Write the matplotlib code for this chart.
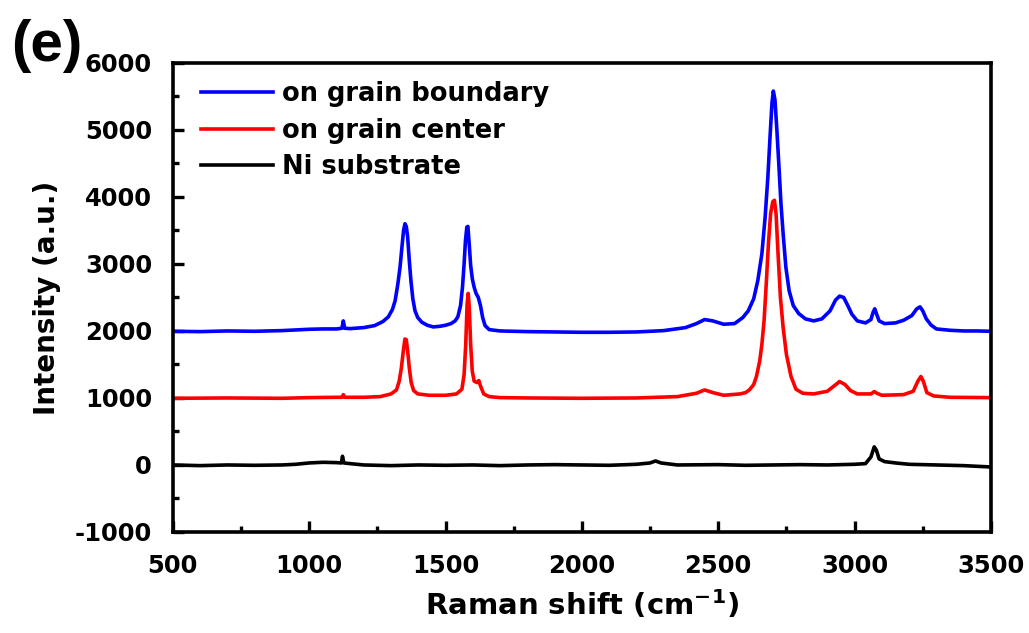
import matplotlib
matplotlib.use("Agg")
import matplotlib.pyplot as plt
from matplotlib.ticker import MultipleLocator

plt.rcParams["axes.unicode_minus"] = False

# Raman spectra (Raman shift in cm^-1, intensity in a.u., offset per curve)
boundary_x = [500, 600, 700, 800, 900, 1000, 1050, 1100, 1120, 1125, 1130, 1150, 1200, 1240,
              1270, 1290, 1305, 1315, 1325, 1333, 1340, 1346, 1351, 1356, 1361, 1367, 1373,
              1380, 1388, 1398, 1413, 1433, 1455, 1480, 1500, 1520, 1535, 1545, 1555, 1562,
              1568, 1573, 1578, 1582, 1587, 1592, 1598, 1605, 1612, 1620, 1628, 1636, 1645,
              1660, 1700, 1800, 1900, 2000, 2100, 2200, 2300, 2380, 2420, 2450, 2480, 2520,
              2560, 2590, 2610, 2630, 2645, 2660, 2672, 2682, 2690, 2697, 2702, 2708, 2715,
              2722, 2730, 2738, 2748, 2760, 2775, 2795, 2820, 2850, 2880, 2910, 2930, 2945,
              2960, 2975, 2990, 3010, 3040, 3060, 3068, 3074, 3080, 3090, 3110, 3150, 3180,
              3210, 3228, 3240, 3250, 3263, 3280, 3300, 3350, 3400, 3450, 3500]
boundary_y = [1995, 1990, 2000, 1995, 2005, 2025, 2030, 2030, 2040, 2150, 2040, 2035, 2050, 2080,
              2140, 2210, 2320, 2450, 2700, 2950, 3250, 3500, 3600, 3560, 3400, 3050, 2750,
              2480, 2300, 2200, 2130, 2085, 2060, 2070, 2085, 2110, 2150, 2210, 2380, 2650,
              3000, 3350, 3550, 3560, 3280, 2980, 2780, 2650, 2560, 2500, 2380, 2200, 2080,
              2020, 2000, 1990, 1985, 1980, 1980, 1985, 2005, 2050, 2110, 2170, 2150, 2100,
              2110, 2200, 2300, 2480, 2750, 3150, 3700, 4300, 4900, 5400, 5580, 5450, 5000,
              4500, 3900, 3450, 2950, 2600, 2380, 2260, 2180, 2150, 2180, 2300, 2460, 2520,
              2500, 2380, 2250, 2150, 2120, 2170, 2280, 2330, 2260, 2150, 2110, 2120, 2160,
              2230, 2330, 2360, 2300, 2180, 2090, 2030, 2010, 2000, 2000, 1995]

center_x = [500, 700, 900, 1000, 1100, 1120, 1125, 1130, 1200, 1260, 1300, 1320, 1330, 1338,
            1345, 1351, 1356, 1361, 1367, 1374, 1383, 1398, 1440, 1500, 1540, 1560, 1568,
            1574, 1579, 1583, 1587, 1592, 1598, 1605, 1615, 1622, 1628, 1640, 1660, 1700,
            1800, 2000, 2200, 2350, 2420, 2450, 2480, 2520, 2580, 2600, 2614, 2630, 2640,
            2652, 2660, 2668, 2676, 2684, 2692, 2700, 2706, 2712, 2720, 2728, 2738, 2750,
            2767, 2785, 2810, 2850, 2900, 2925, 2945, 2965, 2985, 3010, 3060, 3072, 3082,
            3100, 3180, 3215, 3232, 3243, 3252, 3265, 3290, 3350, 3500]
center_y = [995, 1000, 995, 1005, 1010, 1010, 1050, 1010, 1010, 1020, 1060, 1120, 1250, 1450,
            1700, 1880, 1870, 1700, 1450, 1230, 1110, 1060, 1040, 1040, 1060, 1130, 1350,
            1800, 2400, 2560, 2350, 1800, 1400, 1250, 1230, 1260, 1180, 1060, 1020, 1005,
            1000, 995, 1000, 1020, 1070, 1120, 1080, 1040, 1060, 1080, 1120, 1200, 1320,
            1550, 1800, 2150, 2700, 3300, 3750, 3930, 3950, 3750, 3100, 2500, 2050, 1650,
            1320, 1130, 1070, 1060, 1100, 1180, 1245, 1200, 1110, 1060, 1060, 1095, 1070,
            1040, 1050, 1100, 1250, 1320, 1250, 1080, 1030, 1010, 1005]

ni_x = [500, 600, 700, 800, 900, 950, 1000, 1050, 1100, 1118, 1122, 1127, 1150, 1200, 1300,
        1400, 1500, 1600, 1700, 1800, 1900, 2000, 2100, 2200, 2250, 2270, 2290, 2350, 2500,
        2600, 2700, 2800, 2900, 3000, 3040, 3060, 3072, 3080, 3090, 3110, 3150, 3200, 3300,
        3400, 3500]
ni_y = [0, -10, 0, -5, 0, 10, 30, 40, 35, 30, 130, 30, 20, 0, -10,
        0, -5, 0, -10, 0, 5, 0, -5, 10, 30, 60, 30, 0, 5,
        -5, 0, 5, 0, 10, 20, 120, 270, 220, 90, 50, 30, 10, 0,
        -10, -30]

series_labels = ["on grain boundary", "on grain center", "Ni substrate"]
series_colors = ["#0000ff", "#ff0000", "#000000"]

bold = dict(family="DejaVu Sans", weight="bold")

fig = plt.figure(figsize=(10.29, 6.33), dpi=100)
ax = fig.add_axes([0.168, 0.1596, 0.795, 0.741])

for xs, ys, lab, col in zip([boundary_x, center_x, ni_x], [boundary_y, center_y, ni_y],
                            series_labels, series_colors):
    ax.plot(xs, ys, color=col, lw=2.6, label=lab, solid_joinstyle="round")

ax.set_xlim(500, 3500)
ax.set_ylim(-1000, 6000)
ax.xaxis.set_major_locator(MultipleLocator(500))
ax.xaxis.set_minor_locator(MultipleLocator(250))
ax.yaxis.set_major_locator(MultipleLocator(1000))
ax.yaxis.set_minor_locator(MultipleLocator(500))

for s in ax.spines.values():
    s.set_linewidth(2.6)
ax.tick_params(which="both", direction="in", width=2.4, top=False, right=False)
ax.tick_params(axis="y", which="major", length=8, pad=15)
ax.tick_params(axis="x", which="major", length=8, pad=16)
ax.tick_params(which="minor", length=4.5)
for lbl in ax.get_xticklabels() + ax.get_yticklabels():
    lbl.set_fontfamily("DejaVu Sans")
    lbl.set_fontweight("bold")
    lbl.set_fontsize(17.5)

ax.set_xlabel("Raman shift (cm$^{\\mathbf{-1}}$)", fontsize=21, labelpad=7, **bold)
ax.set_ylabel("Intensity (a.u.)", fontsize=20, labelpad=10, **bold)

leg = ax.legend(loc="upper left", bbox_to_anchor=(0.012, 1.0), frameon=False,
                prop=dict(family="DejaVu Sans", weight="bold", size=18.5),
                handlelength=2.8, handletextpad=0.35, labelspacing=0.42, borderaxespad=0.3)
for h in leg.get_lines():
    h.set_linewidth(2.6)

fig.text(0.011, 0.97, "(e)", fontsize=42, family="Liberation Sans", weight="bold",
         ha="left", va="top")

fig.savefig("out.png", dpi=100)
